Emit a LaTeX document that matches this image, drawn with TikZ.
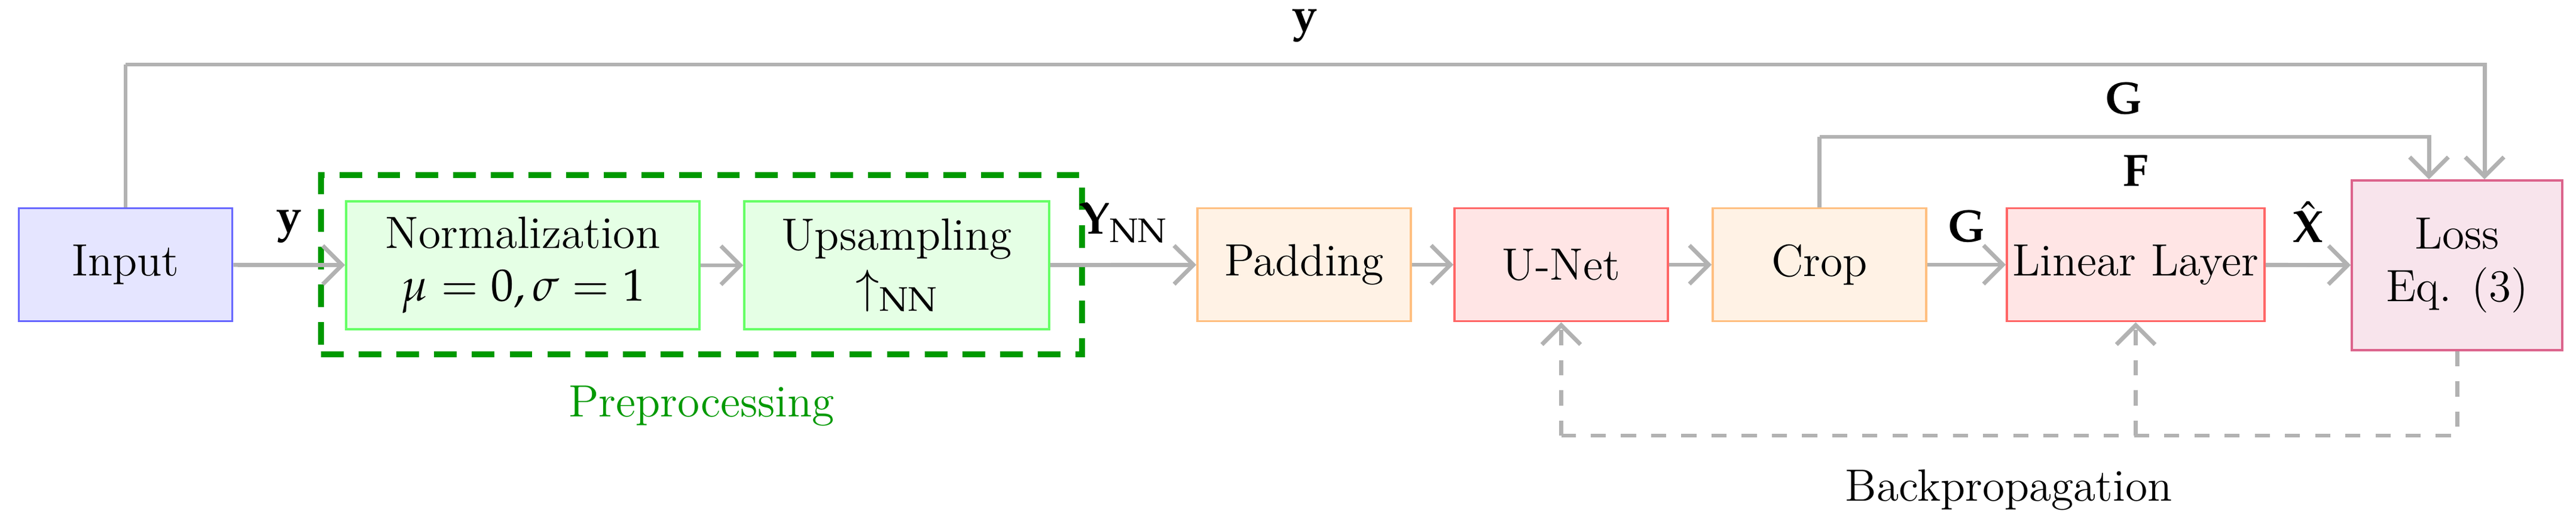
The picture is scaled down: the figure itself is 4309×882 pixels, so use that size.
\documentclass[tikz,border=0pt]{standalone}
\usepackage{mathpazo}
\usetikzlibrary{arrows.meta}
\def\pxu{0.00557cm}
\definecolor{lossd}{RGB}{220,100,140}
\definecolor{lossf}{RGB}{248,228,236}
\begin{document}
\begin{tikzpicture}[x=\pxu,y=-\pxu,
  wh/.style 2 args={minimum width=#1*\pxu, minimum height=#2*\pxu},
  box/.style={draw, line width=0.6pt, align=center, inner sep=0pt, font=\large},
  inb/.style={box, draw=blue!60, fill=blue!10},
  grb/.style={box, draw=green!60, fill=green!10},
  orb/.style={box, draw=orange!50, fill=orange!10},
  rdb/.style={box, draw=red!60, fill=red!10},
  lsb/.style={box, draw=lossd, fill=lossf},
  conn/.style={draw=black!30, line width=1.1pt, -{Straight Barb[length=1.8mm,width=3.6mm]}},
  line/.style={draw=black!30, line width=1.1pt},
  bp/.style={conn, dashed, dash pattern=on 4pt off 4pt},
  lab/.style={font=\large}]
\useasboundingbox (0,0) rectangle (4309,882);
\node[inb, wh={357}{189}] (in) at (210,443) {Input};
\node[grb, wh={591}{214}] (norm) at (874.5,444) {Normalization\\$\mu=0,\sigma=1$};
\node[grb, wh={510}{214}] (up) at (1500,444) {Upsampling\\$\uparrow_{\mathrm{NN}}$};
\node[draw=green!60!black, line width=1.6pt, dashed, dash pattern=on 6pt off 4pt, wh={1273}{300}, inner sep=0pt] (pre) at (1173.5,443) {};
\node[text=green!60!black, lab, anchor=north] (prel) at (pre.south) [yshift=-4pt] {Preprocessing};
\node[orb, wh={357}{189}] (pad) at (2181.5,443) {Padding};
\node[rdb, wh={357}{189}] (unet) at (2611.5,443) {U-Net};
\node[orb, wh={357}{189}] (crop) at (3043.5,443) {Crop};
\node[rdb, wh={431}{189}] (lin) at (3572.5,443) {Linear Layer};
\node[lsb, wh={352}{284}] (loss) at (4110,444) {Loss\\Eq. (3)};
\coordinate (yl) at (210,108);
\coordinate (yr) at (4156,108);
\coordinate (gl) at (3043.5,229);
\coordinate (gr) at (4063,229);
\coordinate (b1) at (4110,729);
\coordinate (b2) at (2611.5,729);
\coordinate (b3) at (3572.5,729);
\path[conn] (in) -- node[lab, above, pos=0.5, yshift=2pt] {$\mathbf{y}$} (norm);
\path[conn] (norm) -- (up);
\path[conn] (up) -- node[lab, above, pos=0.5, yshift=2pt] {$\mathbf{Y}_{\mathrm{NN}}$} (pad);
\path[conn] (pad) -- (unet);
\path[conn] (unet) -- (crop);
\path[conn] (crop) -- node[lab, above, yshift=2pt] {$\mathbf{G}$} (lin);
\path[conn] (lin) -- node[lab, above, yshift=2pt] {$\hat{\mathbf{X}}$} (loss);
\node[lab, above=2pt] (flab) at (lin.north) {$\mathbf{F}$};
\path[line] (in.north) -- (yl);
\path[conn] (yl) -- node[lab, above, yshift=2pt] {$\mathbf{y}$} (yr) -- (yr |- loss.north);
\path[line] (crop.north) -- (gl);
\path[conn] (gl) -- node[lab, above, yshift=2pt] {$\mathbf{G}$} (gr) -- (gr |- loss.north);
\path[draw=black!30, line width=1.1pt, dashed, dash pattern=on 4pt off 4pt] (loss.south) -- (b1) -- (b2);
\path[bp] (b2) -- (unet.south);
\path[bp] (b3) -- (lin.south);
\node[lab] (bpl) at (3360,820) {Backpropagation};
\end{tikzpicture}
\end{document}
